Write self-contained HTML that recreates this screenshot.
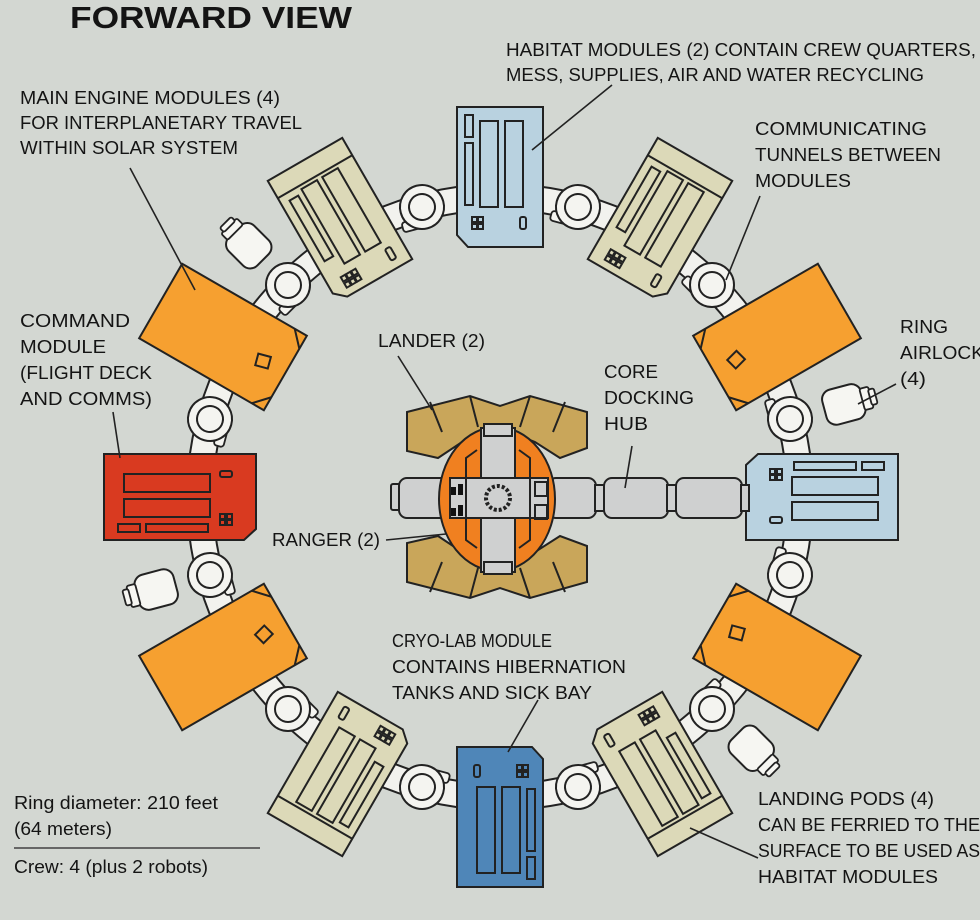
<!DOCTYPE html>
<html><head><meta charset="utf-8"><style>
html,body{margin:0;padding:0;background:#d3d7d2;}
svg{display:block;}
text{font-family:"Liberation Sans",sans-serif;fill:#141414;}
.l{font-size:18.5px;}
</style></head><body>
<svg width="980" height="920" viewBox="0 0 980 920" xmlns="http://www.w3.org/2000/svg">
<rect width="980" height="920" fill="#d3d7d2"/>
<defs>
  <g id="node">
    <rect x="-24" y="10" width="20" height="10" rx="3" fill="#f4f4f0" stroke="#222" stroke-width="1.8"/>
    <circle r="22" fill="#f4f4f0" stroke="#222" stroke-width="2"/>
    <circle r="13" fill="#f4f4f0" stroke="#222" stroke-width="2"/>
  </g>
  <g id="airlock">
    <rect x="-18" y="-26" width="36" height="40" rx="10" fill="#f6f6f2" stroke="#222" stroke-width="2"/>
    <rect x="-11" y="-34" width="22" height="9" rx="2" fill="#f6f6f2" stroke="#222" stroke-width="1.8"/>
    <rect x="-8" y="-39" width="16" height="6" rx="2" fill="#f6f6f2" stroke="#222" stroke-width="1.8"/>
  </g>
  <g id="panels" fill="none" stroke="#222" stroke-width="2">
    <rect x="-35" y="-62" width="8" height="22"/>
    <rect x="-35" y="-34" width="8" height="62"/>
    <rect x="-20" y="-56" width="18" height="86"/>
    <rect x="5" y="-56" width="18" height="86"/>
    <rect x="-28" y="40" width="5" height="5"/><rect x="-22" y="40" width="5" height="5"/>
    <rect x="-28" y="47" width="5" height="5"/><rect x="-22" y="47" width="5" height="5"/>
    <rect x="20" y="40" width="6" height="12" rx="2"/>
  </g>
  <g id="bpanels" fill="none" stroke="#222" stroke-width="2">
    <line x1="-43" y1="-50" x2="43" y2="-50"/>
    <rect x="-34" y="-42" width="10" height="70"/>
    <rect x="-18" y="-46" width="18" height="86"/>
    <rect x="6" y="-46" width="18" height="86"/>
    <rect x="-28" y="50" width="5" height="5"/><rect x="-22" y="50" width="5" height="5"/><rect x="-16" y="50" width="5" height="5"/>
    <rect x="-28" y="57" width="5" height="5"/><rect x="-22" y="57" width="5" height="5"/><rect x="-16" y="57" width="5" height="5"/>
    <rect x="24" y="48" width="6" height="13" rx="2"/>
  </g>
  <g id="opanels" fill="none" stroke="#222" stroke-width="2">
    <path d="M-43 58 L-28 72 M28 72 L43 58"/>
    <rect x="-7" y="40" width="12" height="13" transform="rotate(-15 0 46)"/>
  </g>
</defs>

<circle cx="500" cy="497" r="300" fill="none" stroke="#222" stroke-width="28"/>
<circle cx="500" cy="497" r="300" fill="none" stroke="#f2f2ee" stroke-width="24"/>

<use href="#airlock" transform="translate(253,250) rotate(315)"/>
<use href="#airlock" transform="translate(838,406) rotate(75)"/>
<use href="#airlock" transform="translate(162,588) rotate(255)"/>
<use href="#airlock" transform="translate(747,744) rotate(135)"/>

<use href="#node" transform="translate(578,207) rotate(15)"/>
<use href="#node" transform="translate(712,285) rotate(45)"/>
<use href="#node" transform="translate(790,419) rotate(75)"/>
<use href="#node" transform="translate(790,575) rotate(105)"/>
<use href="#node" transform="translate(712,709) rotate(135)"/>
<use href="#node" transform="translate(578,787) rotate(165)"/>
<use href="#node" transform="translate(422,787) rotate(195)"/>
<use href="#node" transform="translate(288,709) rotate(225)"/>
<use href="#node" transform="translate(210,575) rotate(255)"/>
<use href="#node" transform="translate(210,419) rotate(285)"/>
<use href="#node" transform="translate(288,285) rotate(315)"/>
<use href="#node" transform="translate(422,207) rotate(345)"/>

<g transform="translate(500,177) rotate(0)"><path d="M-43 -70 H43 V70 H-32 L-43 58 Z" fill="#b9d2e0" stroke="#222" stroke-width="2"/><use href="#panels"/></g>
<g transform="translate(822,497) rotate(90)"><path d="M-43 -76 H43 V76 H-32 L-43 64 Z" fill="#b9d2e0" stroke="#222" stroke-width="2"/><use href="#panels"/></g>
<g transform="translate(500,817) rotate(180)"><path d="M-43 -70 H43 V70 H-32 L-43 58 Z" fill="#4f86b8" stroke="#222" stroke-width="2"/><use href="#panels"/></g>
<g transform="translate(180,497) rotate(270)"><path d="M-43 -76 H43 V76 H-32 L-43 64 Z" fill="#d93a20" stroke="#222" stroke-width="2"/><use href="#panels"/></g>

<g transform="translate(660,220) rotate(30)"><path d="M-43 -70 H43 V60 L32 70 H-43 Z" fill="#dcd9b8" stroke="#222" stroke-width="2"/><use href="#bpanels"/></g>
<g transform="translate(660,774) rotate(150)"><path d="M-43 -70 H43 V60 L32 70 H-43 Z" fill="#dcd9b8" stroke="#222" stroke-width="2"/><use href="#bpanels"/></g>
<g transform="translate(340,774) rotate(210)"><path d="M-43 -70 H43 V70 H-32 L-43 60 Z" fill="#dcd9b8" stroke="#222" stroke-width="2"/><use href="#bpanels"/></g>
<g transform="translate(340,220) rotate(330)"><path d="M-43 -70 H43 V70 H-32 L-43 60 Z" fill="#dcd9b8" stroke="#222" stroke-width="2"/><use href="#bpanels"/></g>

<g transform="translate(777,337) rotate(60)"><rect x="-43" y="-72" width="86" height="144" fill="#f6a030" stroke="#222" stroke-width="2"/><use href="#opanels"/></g>
<g transform="translate(777,657) rotate(120)"><rect x="-43" y="-72" width="86" height="144" fill="#f6a030" stroke="#222" stroke-width="2"/><use href="#opanels"/></g>
<g transform="translate(223,657) rotate(240)"><rect x="-43" y="-72" width="86" height="144" fill="#f6a030" stroke="#222" stroke-width="2"/><use href="#opanels"/></g>
<g transform="translate(223,337) rotate(300)"><rect x="-43" y="-72" width="86" height="144" fill="#f6a030" stroke="#222" stroke-width="2"/><use href="#opanels"/></g>

<g stroke="#222" stroke-width="2" fill="#cfd0d0">
  <rect x="391" y="484" width="10" height="26" rx="2"/>
  <rect x="399" y="478" width="50" height="40" rx="8"/>
  <rect x="548" y="478" width="48" height="40" rx="8"/>
  <rect x="595" y="485" width="10" height="26"/>
  <rect x="604" y="478" width="64" height="40" rx="8"/>
  <rect x="667" y="485" width="10" height="26"/>
  <rect x="676" y="478" width="66" height="40" rx="8"/>
  <rect x="741" y="485" width="8" height="26"/>
  <path d="M407 412 L470 396 L500 406 L530 396 L587 412 L587 448 L560 458 L535 442 L515 434 L482 434 L462 442 L438 458 L407 451 Z" fill="#c9a65a"/>
  <path d="M407 582 L470 598 L500 588 L530 598 L587 582 L587 546 L560 536 L535 552 L515 560 L482 560 L462 552 L438 536 L407 543 Z" fill="#c9a65a"/>
  <path d="M430 402 L442 432 M565 402 L553 432 M470 396 L478 427 M530 396 L520 427 M430 592 L442 562 M565 592 L553 562 M470 598 L478 568 M530 598 L520 568" fill="none"/>
  <ellipse cx="497" cy="499" rx="58" ry="72" fill="#f08020"/>
  <rect x="481" y="428" width="34" height="144" fill="#cfd0d0"/>
  <rect x="450" y="478" width="98" height="40" fill="#cfd0d0"/>
  <rect x="484" y="424" width="28" height="12" fill="#cfd0d0"/>
  <rect x="484" y="562" width="28" height="12" fill="#cfd0d0"/>
  <circle cx="498" cy="498" r="12" fill="#cfd0d0" stroke-dasharray="3 2" stroke-width="4"/>
  <path d="M477 450 L466 458 L466 540 L477 548" fill="none"/>
  <path d="M519 450 L530 458 L530 540 L519 548" fill="none"/>
  <rect x="535" y="482" width="12" height="14" fill="none"/>
  <rect x="535" y="505" width="12" height="14" fill="none"/>
</g>
<g fill="#111">
  <rect x="451" y="487" width="5" height="8"/><rect x="458" y="484" width="5" height="11"/>
  <rect x="451" y="508" width="5" height="8"/><rect x="458" y="505" width="5" height="11"/>
</g>

<g stroke="#222" stroke-width="1.6" fill="none">
  <line x1="612" y1="85" x2="532" y2="150"/>
  <line x1="130" y1="168" x2="195" y2="290"/>
  <line x1="760" y1="196" x2="726" y2="280"/>
  <line x1="896" y1="384" x2="858" y2="404"/>
  <line x1="113" y1="412" x2="120" y2="458"/>
  <line x1="398" y1="356" x2="432" y2="410"/>
  <line x1="632" y1="446" x2="625" y2="488"/>
  <line x1="386" y1="540" x2="446" y2="534"/>
  <line x1="538" y1="700" x2="508" y2="752"/>
  <line x1="758" y1="858" x2="690" y2="828"/>
  <line x1="14" y1="848" x2="260" y2="848" stroke="#666" stroke-width="2"/>
</g>

<text x="70" y="28" font-size="31" font-weight="bold" textLength="282" lengthAdjust="spacingAndGlyphs">FORWARD VIEW</text>
<g class="l">
<text x="506" y="56" textLength="470" lengthAdjust="spacingAndGlyphs">HABITAT MODULES (2) CONTAIN CREW QUARTERS,</text>
<text x="506" y="81" textLength="418" lengthAdjust="spacingAndGlyphs">MESS, SUPPLIES, AIR AND WATER RECYCLING</text>
<text x="20" y="104" textLength="260" lengthAdjust="spacingAndGlyphs">MAIN ENGINE MODULES (4)</text>
<text x="20" y="129" textLength="282" lengthAdjust="spacingAndGlyphs">FOR INTERPLANETARY TRAVEL</text>
<text x="20" y="154" textLength="218" lengthAdjust="spacingAndGlyphs">WITHIN SOLAR SYSTEM</text>
<text x="755" y="135" textLength="172" lengthAdjust="spacingAndGlyphs">COMMUNICATING</text>
<text x="755" y="161" textLength="186" lengthAdjust="spacingAndGlyphs">TUNNELS BETWEEN</text>
<text x="755" y="187" textLength="96" lengthAdjust="spacingAndGlyphs">MODULES</text>
<text x="900" y="333" textLength="48" lengthAdjust="spacingAndGlyphs">RING</text>
<text x="900" y="359" textLength="84" lengthAdjust="spacingAndGlyphs">AIRLOCK</text>
<text x="900" y="385" textLength="26" lengthAdjust="spacingAndGlyphs">(4)</text>
<text x="20" y="327" textLength="110" lengthAdjust="spacingAndGlyphs">COMMAND</text>
<text x="20" y="353" textLength="86" lengthAdjust="spacingAndGlyphs">MODULE</text>
<text x="20" y="379" textLength="132" lengthAdjust="spacingAndGlyphs">(FLIGHT DECK</text>
<text x="20" y="405" textLength="132" lengthAdjust="spacingAndGlyphs">AND COMMS)</text>
<text x="378" y="347" textLength="107" lengthAdjust="spacingAndGlyphs">LANDER (2)</text>
<text x="604" y="378" textLength="54" lengthAdjust="spacingAndGlyphs">CORE</text>
<text x="604" y="404" textLength="90" lengthAdjust="spacingAndGlyphs">DOCKING</text>
<text x="604" y="430" textLength="44" lengthAdjust="spacingAndGlyphs">HUB</text>
<text x="272" y="546" textLength="108" lengthAdjust="spacingAndGlyphs">RANGER (2)</text>
<text x="392" y="647" textLength="160" lengthAdjust="spacingAndGlyphs">CRYO-LAB MODULE</text>
<text x="392" y="673" textLength="234" lengthAdjust="spacingAndGlyphs">CONTAINS HIBERNATION</text>
<text x="392" y="699" textLength="200" lengthAdjust="spacingAndGlyphs">TANKS AND SICK BAY</text>
<text x="758" y="805" textLength="176" lengthAdjust="spacingAndGlyphs">LANDING PODS (4)</text>
<text x="758" y="831" textLength="222" lengthAdjust="spacingAndGlyphs">CAN BE FERRIED TO THE</text>
<text x="758" y="857" textLength="222" lengthAdjust="spacingAndGlyphs">SURFACE TO BE USED AS</text>
<text x="758" y="883" textLength="180" lengthAdjust="spacingAndGlyphs">HABITAT MODULES</text>
<text x="14" y="809" textLength="204" lengthAdjust="spacingAndGlyphs">Ring diameter: 210 feet</text>
<text x="14" y="835" textLength="98" lengthAdjust="spacingAndGlyphs">(64 meters)</text>
<text x="14" y="873" textLength="194" lengthAdjust="spacingAndGlyphs">Crew: 4 (plus 2 robots)</text>
</g>
</svg>
</body></html>
